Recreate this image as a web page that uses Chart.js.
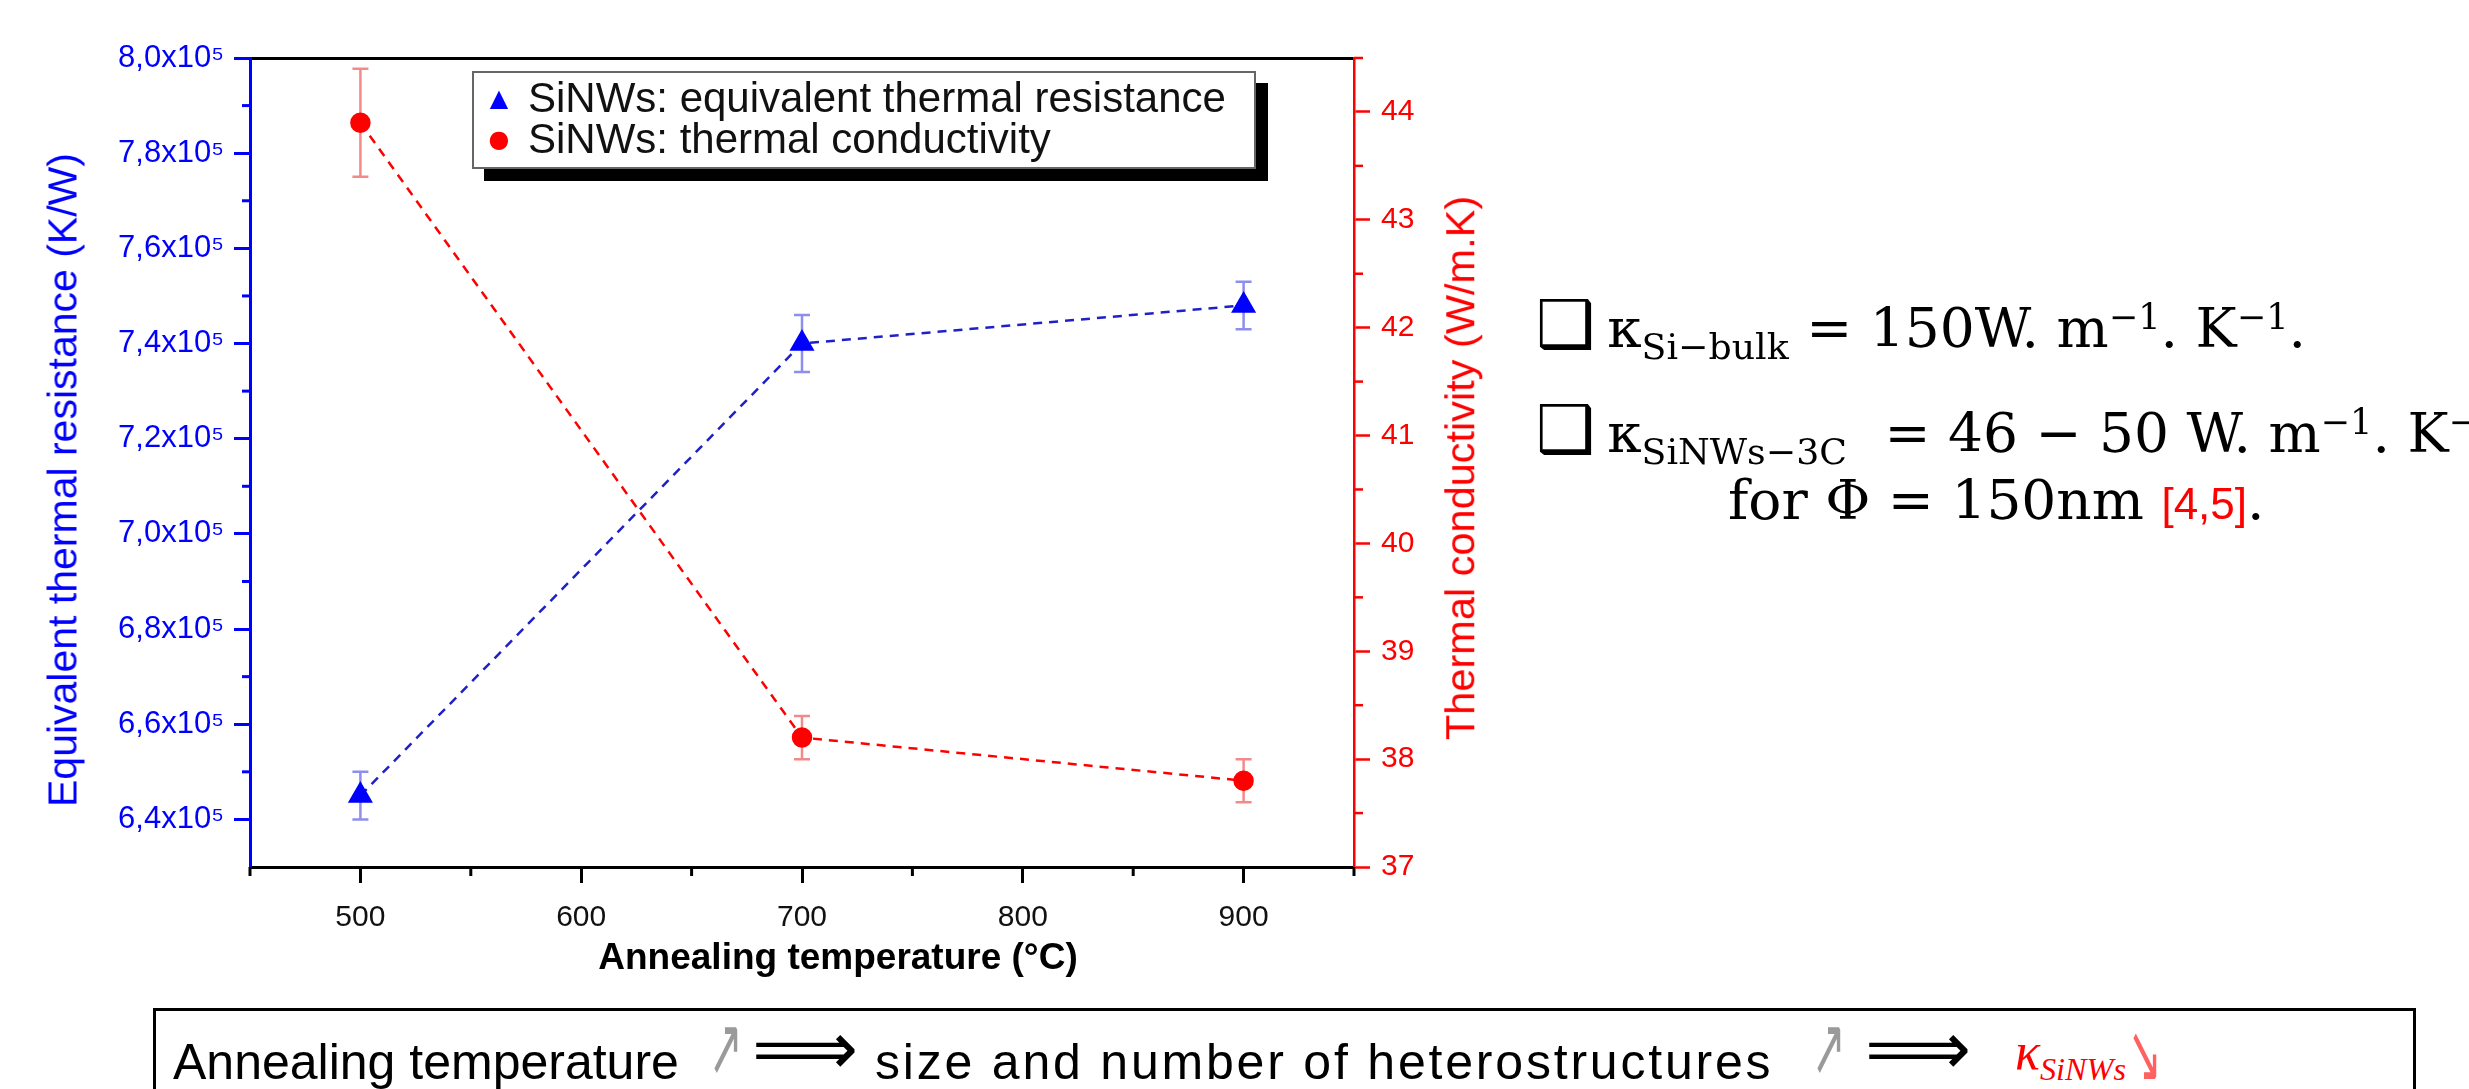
<!DOCTYPE html>
<html>
<head>
<meta charset="utf-8">
<script src="https://cdn.jsdelivr.net/npm/chart.js@4.4.1/dist/chart.umd.min.js"></script>
<style>
  html, body { margin: 0; padding: 0; background: #fff; }
  body { width: 2469px; height: 1089px; position: relative; overflow: hidden; font-family: "Liberation Sans", Arial, sans-serif; }
  #wrap { position: absolute; left: 0; top: 0; width: 1560px; height: 1000px; }
  .abs { position: absolute; white-space: nowrap; line-height: 1; }
  #legend { position: absolute; left: 472px; top: 71px; width: 780px; height: 94px; border: 2px solid #666; background: #fff; box-shadow: 12px 12px 0 #000; }
  #legend .row { position: absolute; left: 54px; font-size: 42px; color: #111; white-space: nowrap; line-height: 1; }
  #legend .mk { position: absolute; font-family: "DejaVu Sans", sans-serif; font-size: 24px; line-height: 1; transform: translate(-50%, -50%); }
  .atitle { position: absolute; white-space: nowrap; line-height: 1; transform: translate(-50%, -50%); }
  .serif { font-family: "DejaVu Serif", "Liberation Serif", serif; font-size: 55px; color: #000; }
  .serif span { line-height: 0; }
  .serif .sb { font-size: 0.66em; vertical-align: -0.34em; }
  .serif .sp { font-size: 0.64em; vertical-align: 0.52em; }
  .chk { font-family: "DejaVu Sans", sans-serif; font-size: 66px; margin-right: 12px; }
  #note { position: absolute; left: 153px; top: 1008px; width: 2257px; height: 140px; border: 3px solid #000; }
  .nt { font-size: 50px; color: #000; }
  .arr { font-family: "DejaVu Sans", sans-serif; font-size: 54px; color: #9a9a9a; transform: scale(0.75, 1.5); transform-origin: 50% 60%; }
  .dbl { font-family: "DejaVu Sans", sans-serif; font-size: 74px; color: #000; }
</style>
</head>
<body>
<div id="wrap"><canvas id="c" width="1560" height="1000"></canvas></div>

<div id="legend">
  <span class="mk" style="left:25px; top:25px; color:#0000ff;">▲</span>
  <div class="row" style="top:4px;">SiNWs: equivalent thermal resistance</div>
  <span class="mk" style="left:25px; top:66px; color:#ff0000;">●</span>
  <div class="row" style="top:45px;">SiNWs: thermal conductivity</div>
</div>

<div class="atitle" style="left:63px; top:480px; color:#0000ff; font-size:41px; transform: translate(-50%, -50%) rotate(-90deg);">Equivalent thermal resistance (K/W)</div>
<div class="atitle" style="left:1460px; top:468px; color:#ff0000; font-size:41.5px; transform: translate(-50%, -50%) rotate(-90deg);">Thermal conductivity (W/m.K)</div>
<div class="atitle" style="left:838px; top:956px; color:#000; font-size:37px; font-weight:bold;">Annealing temperature (°C)</div>

<div class="abs serif" style="left:1536px; top:301px;"><span class="chk">❑</span>κ<span class="sb">Si−bulk</span> = 150W. m<span class="sp">−1</span>. K<span class="sp">−1</span>.</div>
<div class="abs serif" style="left:1536px; top:406px;"><span class="chk">❑</span>κ<span class="sb">SiNWs−3C</span><span style="display:inline-block; width:20px;"></span> = 46 − 50 W. m<span class="sp">−1</span>. K<span class="sp">−1</span></div>
<div class="abs serif" style="left:1728px; top:473px;">for Φ = 150nm <span style="color:#ff0000; font-family:'Liberation Sans', Arial, sans-serif; font-size:44px;">[4,5]</span>.</div>

<div id="note"></div>
<div class="abs nt" style="left:173px; top:1037px;">Annealing temperature</div>
<div class="abs arr" style="left:703px; top:1024px;">↗</div>
<div class="abs dbl" style="left:752px; top:1011px;">⟹</div>
<div class="abs nt" style="left:875px; top:1037px; letter-spacing:2.8px;">size and number of heterostructures</div>
<div class="abs arr" style="left:1806px; top:1024px;">↗</div>
<div class="abs dbl" style="left:1865px; top:1011px;">⟹</div>
<div class="abs" style="left:2015px; top:1026px; font-family:'Liberation Serif', serif; font-style:italic; color:#ff0000; font-size:52px;">κ<span style="font-size:0.62em; vertical-align:-0.35em;">SiNWs</span></div>
<div class="abs arr" style="left:2122px; top:1030px; color:#ff6060;">↘</div>

<script>
// ---- data ----
const temps = [500, 700, 900];
const resistance = [645000, 740000, 748000];
const resistanceErr = [5000, 6000, 5000];
const conductivity = [43.9, 38.2, 37.8];
const conductivityErr = [0.5, 0.2, 0.2];

// ---- ticks ----
const xMajor = [500, 600, 700, 800, 900];
const xTickLabels = ['500', '600', '700', '800', '900'];
const xMinor = [450, 550, 650, 750, 850, 950];
const leftMajor = [640000, 660000, 680000, 700000, 720000, 740000, 760000, 780000, 800000];
const leftTickLabels = ['6,4x10⁵', '6,6x10⁵', '6,8x10⁵', '7,0x10⁵', '7,2x10⁵', '7,4x10⁵', '7,6x10⁵', '7,8x10⁵', '8,0x10⁵'];
const leftMinor = [650000, 670000, 690000, 710000, 730000, 750000, 770000, 790000];
const rightMajor = [37, 38, 39, 40, 41, 42, 43, 44];
const rightTickLabels = ['37', '38', '39', '40', '41', '42', '43', '44'];
const rightMinor = [37.5, 38.5, 39.5, 40.5, 41.5, 42.5, 43.5, 44.5];

const FAM = "'Liberation Sans', Arial, sans-serif";
Chart.defaults.font.family = FAM;

const errorBars = {
  id: 'errorBars',
  beforeDatasetsDraw(chart) {
    const c = chart.ctx;
    const xs = chart.scales.x;
    const sets = [
      [resistance, resistanceErr, 'yL', 'rgba(50,50,220,0.55)'],
      [conductivity, conductivityErr, 'yR', 'rgba(235,40,40,0.55)']
    ];
    c.save();
    sets.forEach(([vals, errs, ax, col]) => {
      const ys = chart.scales[ax];
      c.strokeStyle = col;
      c.lineWidth = 2.5;
      temps.forEach((t, i) => {
        const px = xs.getPixelForValue(t);
        const top = ys.getPixelForValue(vals[i] + errs[i]);
        const bot = ys.getPixelForValue(vals[i] - errs[i]);
        c.beginPath();
        c.moveTo(px, top); c.lineTo(px, bot);
        c.moveTo(px - 8, top); c.lineTo(px + 8, top);
        c.moveTo(px - 8, bot); c.lineTo(px + 8, bot);
        c.stroke();
      });
    });
    c.restore();
  }
};

const minorTicks = {
  id: 'minorTicks',
  afterDraw(chart) {
    const c = chart.ctx;
    const { x, yL, yR } = chart.scales;
    const area = chart.chartArea;
    c.save();
    c.lineCap = 'butt';
    c.strokeStyle = '#000'; c.lineWidth = 3;
    xMinor.forEach(v => {
      const p = x.getPixelForValue(v);
      c.beginPath(); c.moveTo(p, area.bottom); c.lineTo(p, area.bottom + 9); c.stroke();
    });
    c.strokeStyle = '#0000ff'; c.lineWidth = 3;
    leftMinor.forEach(v => {
      const p = yL.getPixelForValue(v);
      c.beginPath(); c.moveTo(area.left, p); c.lineTo(area.left - 8, p); c.stroke();
    });
    c.strokeStyle = '#ff0000'; c.lineWidth = 2.5;
    rightMinor.forEach(v => {
      const p = yR.getPixelForValue(v);
      c.beginPath(); c.moveTo(area.right, p); c.lineTo(area.right + 9, p); c.stroke();
    });
    c.restore();
  }
};

new Chart(document.getElementById('c'), {
  type: 'line',
  data: {
    datasets: [
      {
        label: 'SiNWs: equivalent thermal resistance',
        data: temps.map((t, i) => ({ x: t, y: resistance[i] })),
        yAxisID: 'yL',
        borderColor: '#2020c8',
        borderWidth: 2.5,
        borderDash: [9, 7],
        pointStyle: 'triangle',
        pointRadius: 12,
        pointBackgroundColor: '#0000ff',
        pointBorderColor: '#0000ff',
        fill: false,
        tension: 0
      },
      {
        label: 'SiNWs: thermal conductivity',
        data: temps.map((t, i) => ({ x: t, y: conductivity[i] })),
        yAxisID: 'yR',
        borderColor: '#ff0000',
        borderWidth: 2.5,
        borderDash: [9, 7],
        pointStyle: 'circle',
        pointRadius: 9,
        pointBackgroundColor: '#ff0000',
        pointBorderColor: '#ff0000',
        fill: false,
        tension: 0
      }
    ]
  },
  options: {
    responsive: false,
    animation: false,
    devicePixelRatio: 1,
    layout: { padding: { top: 58, left: 0, right: 0, bottom: 0 } },
    plugins: { legend: { display: false }, tooltip: { enabled: false }, title: { display: false } },
    scales: {
      x: {
        type: 'linear', position: 'bottom', min: 450, max: 950,
        afterBuildTicks: s => { s.ticks = xMajor.map(v => ({ value: v })); },
        afterFit: s => { s.height = 133; },
        ticks: { color: '#111', font: { size: 30 }, padding: 17, callback: (v, i) => xTickLabels[i] },
        grid: { drawOnChartArea: false, tickLength: 16, tickColor: '#000', tickWidth: 3 },
        border: { color: '#000', width: 3 },
        title: { display: false }
      },
      xTop: {
        type: 'linear', position: 'top', min: 450, max: 950,
        afterFit: s => { s.height = 0; },
        ticks: { display: false },
        grid: { drawOnChartArea: false, drawTicks: false },
        border: { color: '#000', width: 3 }
      },
      yL: {
        type: 'linear', position: 'left', min: 630000, max: 800000,
        afterBuildTicks: s => { s.ticks = leftMajor.map(v => ({ value: v })); },
        afterFit: s => { s.width = 250; },
        ticks: { color: '#0000ff', font: { size: 31 }, padding: 10, callback: (v, i) => leftTickLabels[i] },
        grid: { drawOnChartArea: false, tickLength: 16, tickColor: '#0000ff', tickWidth: 3 },
        border: { color: '#0000ff', width: 3 },
        title: { display: false }
      },
      yR: {
        type: 'linear', position: 'right', min: 37, max: 44.5,
        afterBuildTicks: s => { s.ticks = rightMajor.map(v => ({ value: v })); },
        afterFit: s => { s.width = 206; },
        ticks: { color: '#ff0000', font: { size: 30 }, padding: 11, callback: (v, i) => rightTickLabels[i] },
        grid: { drawOnChartArea: false, tickLength: 16, tickColor: '#ff0000', tickWidth: 2.5 },
        border: { color: '#ff0000', width: 2.5 }
      }
    }
  },
  plugins: [errorBars, minorTicks]
});
</script>
</body>
</html>
